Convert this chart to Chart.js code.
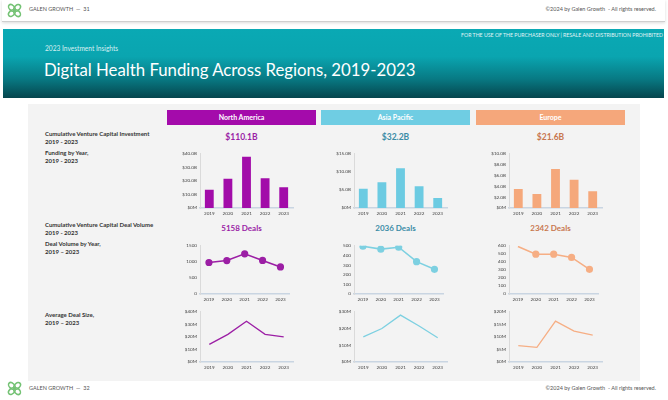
<!DOCTYPE html>
<html>
<head>
<meta charset="utf-8">
<script src="https://cdn.jsdelivr.net/npm/chart.js@4.4.1/dist/chart.umd.min.js"></script>
<style>
  body { margin: 0; width: 668px; height: 400px; background: #fff; position: relative; overflow: hidden; font-family: Lato, sans-serif; }
  .abs { position: absolute; }
  .strip { left: 2px; width: 663px; background: #fff; }
  .topbar { top: 0; height: 21px; border-bottom: 1px solid #cfcfcf; box-shadow: 0 1px 3px rgba(0,0,0,0.15); }
  .small { font-size: 5.5px; color: #555; white-space: nowrap; }
  .hero { left: 3px; top: 29px; width: 661px; height: 69px;
    background: linear-gradient(#0aa9b4 0%, #0aa5b0 40%, #087a84 72%, #05454d 100%); }
  .panel { left: 28px; top: 104px; width: 612px; height: 277px; background: #f3f3f3; }
  .region { top: 110px; width: 149px; height: 15px; color: #fff; font-size: 7px; font-weight: bold;
    text-align: center; line-height: 15px; }
  .total { width: 149px; text-align: center; font-weight: bold; }
  .lbl { left: 45px; font-size: 6px; font-weight: bold; color: #333; line-height: 7.5px; white-space: nowrap; }
  .box { position: absolute; }
</style>
</head>
<body>
<div class="abs strip topbar"></div>
<svg class="abs" style="left:6px;top:2px" width="17" height="17" viewBox="0 0 20 20">
  <g fill="none" stroke="#74c274" stroke-width="1.8">
    <ellipse cx="10" cy="5.5" rx="3" ry="4.5" transform="rotate(45 10 10)"/>
    <ellipse cx="10" cy="5.5" rx="3" ry="4.5" transform="rotate(135 10 10)"/>
    <ellipse cx="10" cy="5.5" rx="3" ry="4.5" transform="rotate(225 10 10)"/>
    <ellipse cx="10" cy="5.5" rx="3" ry="4.5" transform="rotate(315 10 10)"/>
  </g>
</svg>
<div class="abs small" style="left:29px;top:6px">GALEN GROWTH &nbsp;—&nbsp; 31</div>
<div class="abs small" style="right:12px;top:6px">©2024 by Galen Growth &nbsp;- All rights reserved.</div>

<div class="abs hero"></div>
<div class="abs" style="right:5px;top:32px;font-size:5.2px;color:#e0f4f6;white-space:nowrap">FOR THE USE OF THE PURCHASER ONLY | RESALE AND DISTRIBUTION PROHIBITED</div>
<div class="abs" style="left:45px;top:44px;font-size:6.6px;color:#d8f0f2;white-space:nowrap">2023 Investment Insights</div>
<div class="abs" id="title" style="left:44px;top:59px;font-size:16.8px;color:#fff;white-space:nowrap">Digital Health Funding Across Regions, 2019-2023</div>

<div class="abs panel"></div>

<div class="abs lbl" style="top:130px">Cumulative Venture Capital Investment<br>2019 - 2023</div>
<div class="abs lbl" style="top:149px">Funding by Year,<br>2019 - 2023</div>
<div class="abs lbl" style="top:221px">Cumulative Venture Capital Deal Volume<br>2019 - 2023</div>
<div class="abs lbl" style="top:240px">Deal Volume by Year,<br>2019 – 2023</div>
<div class="abs lbl" style="top:311px">Average Deal Size,<br>2019 – 2023</div>

<div id="cols"></div>

<svg class="abs" style="left:6px;top:380px" width="17" height="17" viewBox="0 0 20 20">
  <g fill="none" stroke="#74c274" stroke-width="1.8">
    <ellipse cx="10" cy="5.5" rx="3" ry="4.5" transform="rotate(45 10 10)"/>
    <ellipse cx="10" cy="5.5" rx="3" ry="4.5" transform="rotate(135 10 10)"/>
    <ellipse cx="10" cy="5.5" rx="3" ry="4.5" transform="rotate(225 10 10)"/>
    <ellipse cx="10" cy="5.5" rx="3" ry="4.5" transform="rotate(315 10 10)"/>
  </g>
</svg>
<div class="abs small" style="left:29px;top:385px">GALEN GROWTH &nbsp;—&nbsp; 32</div>
<div class="abs small" style="right:12px;top:385px">©2024 by Galen Growth &nbsp;- All rights reserved.</div>

<script>
const years = ['2019', '2020', '2021', '2022', '2023'];
const regions = ['North America', 'Asia Pacific', 'Europe'];
const fundingTotals = ['$110.1B', '$32.2B', '$21.6B'];
const dealTotals = ['5158 Deals', '2036 Deals', '2342 Deals'];

// funding by year, $B
const naFunding = [13.5, 21.5, 37.8, 22.0, 15.3];
const apFunding = [5.3, 7.1, 11.0, 6.0, 2.8];
const euFunding = [3.5, 2.6, 7.2, 5.2, 3.1];

// deal volume by year
const naDeals = [980, 1040, 1250, 1045, 843];
const apDeals = [495, 465, 485, 335, 256];
const euDeals = [590, 495, 495, 455, 307];

// average deal size, $M
const naDealSize = [14, 22, 32.5, 22, 20];
const apDealSize = [15, 20, 28, 21.5, 14.5];
const euDealSize = [6.5, 5.8, 16.3, 12.3, 10.7];

const naFundTicks = ['$0M', '$10.0B', '$20.0B', '$30.0B', '$40.0B'];
const apFundTicks = ['$0M', '$5.0B', '$10.0B', '$15.0B'];
const euFundTicks = ['$0M', '$2.0B', '$4.0B', '$6.0B', '$8.0B', '$10.0B'];
const naDealTicks = ['0', '500', '1000', '1500'];
const apDealTicks = ['0', '100', '200', '300', '400', '500'];
const euDealTicks = ['0', '100', '200', '300', '400', '500', '600'];
const naSizeTicks = ['$0M', '$10M', '$20M', '$30M', '$40M'];
const apSizeTicks = ['$0M', '$10M', '$20M', '$30M'];
const euSizeTicks = ['$0M', '$5M', '$10M', '$15M', '$20M'];

const colLeft = [167, 321, 476];
const headColors = ['#a40bab', '#6fcde3', '#f5a77b'];
const barColors = ['#a20ca9', '#6ccbe2', '#f5a87b'];
const lineColors = ['#9c1fa5', '#7dd0e1', '#f6ae84'];
const totalColors = ['#9a1ea6', '#3b8ca6', '#c8774f'];

const sets = [
  { funding: naFunding, deals: naDeals, size: naDealSize, fTicks: naFundTicks, fStep: 10, dTicks: naDealTicks, dStep: 500, sTicks: naSizeTicks, sStep: 10 },
  { funding: apFunding, deals: apDeals, size: apDealSize, fTicks: apFundTicks, fStep: 5, dTicks: apDealTicks, dStep: 100, sTicks: apSizeTicks, sStep: 10 },
  { funding: euFunding, deals: euDeals, size: euDealSize, fTicks: euFundTicks, fStep: 2, dTicks: euDealTicks, dStep: 100, sTicks: euSizeTicks, sStep: 5 }
];

const cols = document.getElementById('cols');

function addDiv(html, style, cls) {
  const d = document.createElement('div');
  d.className = 'abs ' + (cls || '');
  d.setAttribute('style', style);
  d.innerHTML = html;
  cols.appendChild(d);
  return d;
}

function addCanvas(left, top, w, h) {
  const box = document.createElement('div');
  box.className = 'box';
  box.style.left = left + 'px';
  box.style.top = top + 'px';
  box.style.width = w + 'px';
  box.style.height = h + 'px';
  const c = document.createElement('canvas');
  box.appendChild(c);
  cols.appendChild(box);
  return c;
}

function makeChart(canvas, type, values, color, ticks, step, extra) {
  const isBar = type === 'bar';
  const ds = {
    data: values,
    backgroundColor: color,
    borderColor: color
  };
  if (isBar) {
    ds.barPercentage = 0.95;
    ds.categoryPercentage = 0.5;
  } else {
    ds.borderWidth = extra.lineWidth;
    ds.pointRadius = extra.pointRadius;
    ds.pointBackgroundColor = color;
    ds.tension = 0;
  }
  return new Chart(canvas, {
    type: type,
    data: { labels: years, datasets: [ds] },
    options: {
      responsive: true,
      maintainAspectRatio: false,
      animation: false,
      layout: { padding: { top: 5, right: 2, left: 0, bottom: 0 } },
      plugins: { legend: { display: false }, tooltip: { enabled: false } },
      scales: {
        x: {
          offset: true,
          grid: { display: false, drawTicks: false },
          border: { display: true, color: '#c9d5e2', width: 1.5 },
          ticks: { font: { family: 'Lato', size: 4.6 }, color: '#444', padding: 3, maxRotation: 0, autoSkip: false },
          afterFit: s => { s.height = extra.xh; }
        },
        y: {
          min: 0,
          max: step * (ticks.length - 1),
          grid: { display: false, drawTicks: false },
          border: { display: true, color: '#dadada', width: 1 },
          ticks: { stepSize: step, font: { family: 'Lato', size: 4.6 }, color: '#444', padding: 3, autoSkip: false,
            callback: (v, i) => ticks[i] },
          afterFit: s => { s.width = 23; }
        }
      }
    }
  });
}

regions.forEach((name, i) => {
  const x = colLeft[i];
  const s = sets[i];
  addDiv(name, 'left:' + x + 'px;background:' + headColors[i], 'region');
  addDiv(fundingTotals[i], 'left:' + x + 'px;top:132px;font-size:8.5px;color:' + totalColors[i], 'total');
  addDiv(dealTotals[i], 'left:' + x + 'px;top:223px;font-size:8px;color:' + totalColors[i], 'total');

  makeChart(addCanvas(x + 10, 148, 118, 70), 'bar', s.funding, barColors[i], s.fTicks, s.fStep, { xh: 10 });

  const radius = i === 2 ? [0, 2.8, 2.8, 2.8, 2.8] : 2.8;
  makeChart(addCanvas(x + 10, 240, 118, 65), 'line', s.deals, lineColors[i], s.dTicks, s.dStep,
    { xh: 11, lineWidth: 1.6, pointRadius: radius });

  makeChart(addCanvas(x + 10, 306, 118, 67), 'line', s.size, lineColors[i], s.sTicks, s.sStep,
    { xh: 11, lineWidth: 1.3, pointRadius: 0 });
});
</script>
</body>
</html>
